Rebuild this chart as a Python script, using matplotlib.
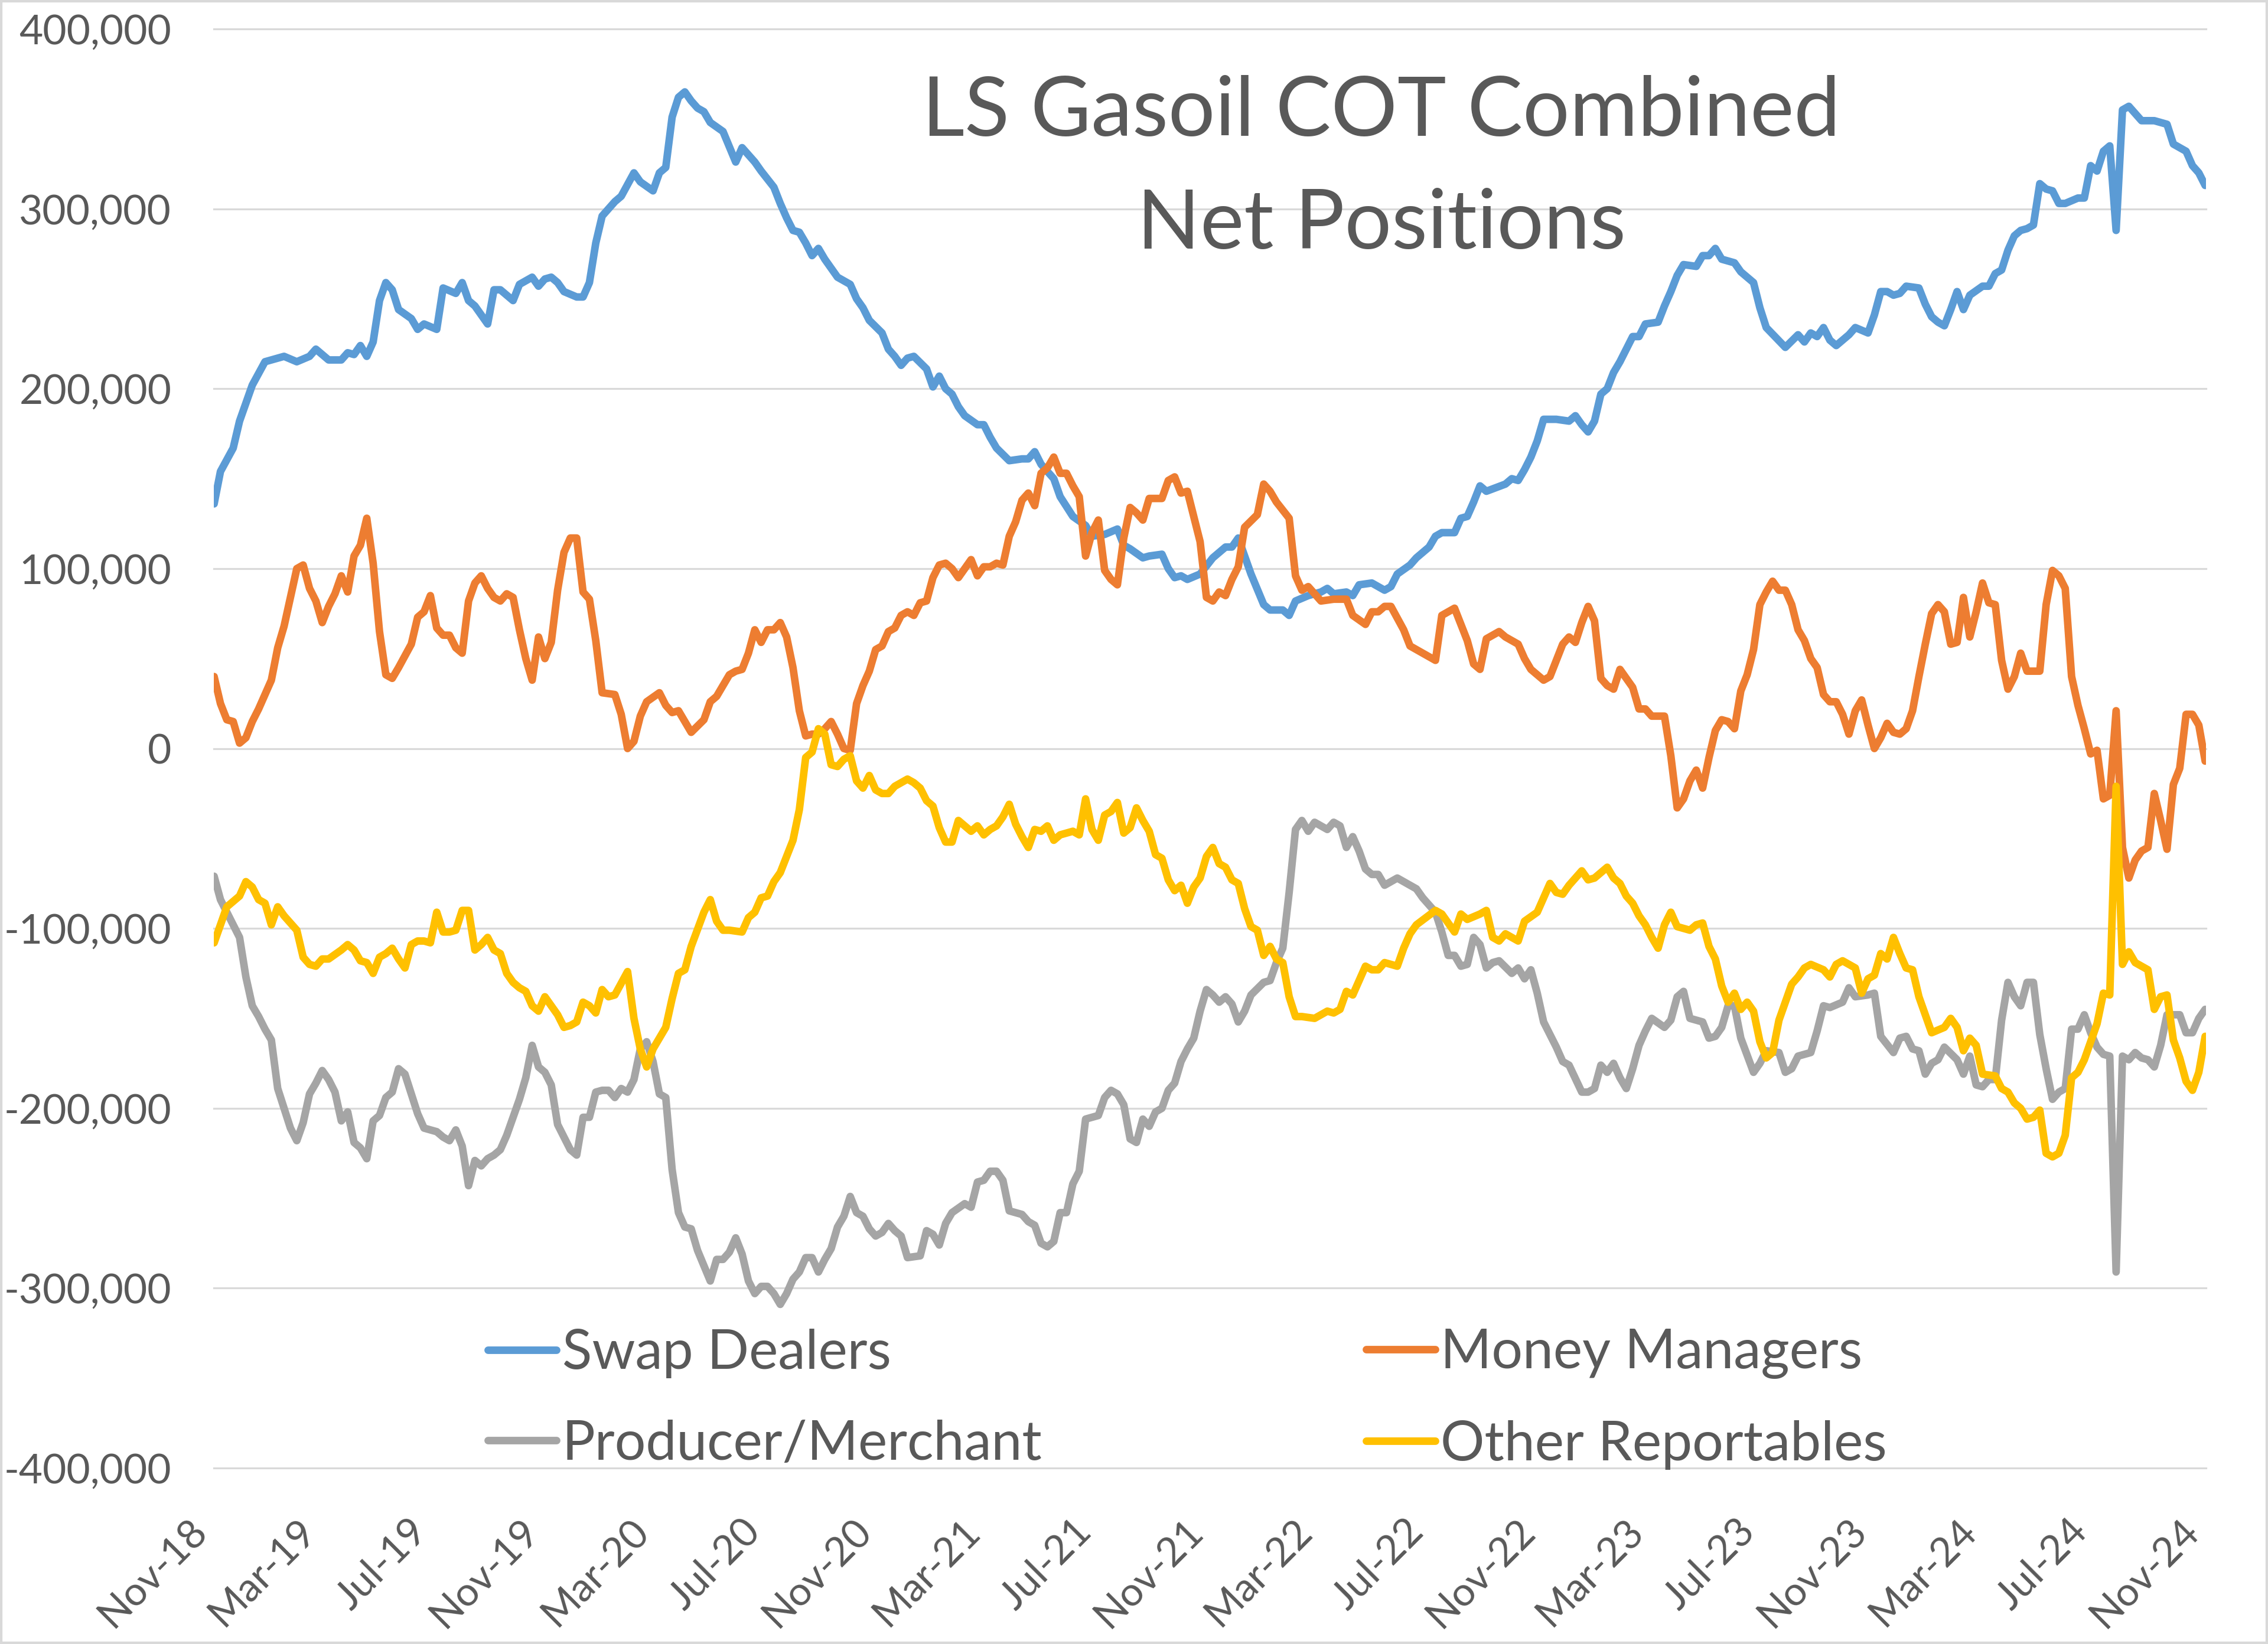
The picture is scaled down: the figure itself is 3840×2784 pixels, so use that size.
import numpy as np
import pandas as pd
import matplotlib
matplotlib.use("Agg")
import matplotlib.pyplot as plt
from matplotlib.ticker import FuncFormatter
from matplotlib.patches import Rectangle

plt.rcParams['font.family'] = ['Lato', 'DejaVu Sans']

# weekly COT reports, (week number since first report, net position in thousands)
first_report = pd.Timestamp('2018-11-06')

swap_dealers = [(0,136),(1,154),(3,167),(4,182),(6,202),(8,215),(11,218),(13,215),(15,218),(16,222),(18,216),(20,216),(21,220),(22,219),(23,224),(24,218),(25,226),(26,249),(27,259),(28,255),(29,244),(31,239),(32,233),(33,236),(35,233),(36,256),(38,253),(39,259),(40,249),(41,246),(43,236),(44,255),(45,255),(47,249),(48,258),(50,262),(51,257),(52,261),(53,262),(54,259),(55,254),(57,251),(58,251),(59,259),(60,281),(61,296),(63,304),(64,307),(66,320),(67,315),(69,310),(70,320),(71,323),(72,351),(73,362),(74,365),(75,360),(76,356),(77,354),(78,348),(80,343),(82,326),(83,334),(85,326),(86,321),(88,312),(89,303),(90,295),(91,288),(92,287),(93,281),(94,274),(95,278),(96,272),(98,262),(100,258),(101,250),(102,245),(103,238),(105,231),(106,222),(107,218),(108,213),(109,217),(110,218),(112,211),(113,201),(114,207),(115,200),(116,197),(117,190),(118,185),(120,180),(121,180),(122,173),(123,167),(125,160),(127,161),(128,161),(129,165),(130,158),(132,150),(133,140),(135,129),(137,124),(138,118),(140,119),(142,122),(143,113),(144,111),(146,106),(147,107),(149,108),(150,100),(151,95),(152,96),(153,94),(155,97),(157,106),(159,112),(160,112),(161,117),(162,107),(163,97),(165,80),(166,77),(168,77),(169,74),(170,82),(172,85),(174,87),(175,89),(176,86),(178,87),(179,85),(180,91),(182,92),(184,88),(185,90),(186,97),(188,102),(189,106),(191,112),(192,118),(193,120),(195,120),(196,128),(197,129),(198,137),(199,146),(200,143),(203,147),(204,150),(205,149),(206,155),(207,162),(208,171),(209,183),(211,183),(213,182),(214,185),(215,180),(216,176),(217,182),(218,197),(219,200),(220,209),(221,215),(223,229),(224,229),(225,236),(227,237),(228,246),(229,254),(230,263),(231,269),(233,268),(234,274),(235,274),(236,278),(237,272),(239,270),(240,265),(242,259),(243,245),(244,234),(247,223),(249,230),(250,226),(251,231),(252,229),(253,234),(254,227),(255,224),(257,230),(258,234),(260,231),(261,241),(262,254),(263,254),(264,252),(265,253),(266,257),(268,256),(269,247),(270,240),(271,237),(272,235),(273,244),(274,254),(275,244),(276,252),(278,257),(279,257),(280,264),(281,266),(282,277),(283,285),(284,288),(285,289),(286,291),(287,314),(288,311),(289,310),(290,303),(291,303),(293,306),(294,306),(295,324),(296,321),(297,332),(298,335),(299,288),(300,355),(301,357),(303,349),(305,349),(307,347),(308,336),(310,332),(311,324),(312,320),(313,313)]

money_managers = [(0,40),(1,25),(2,16),(3,15),(4,3),(5,6),(6,15),(7,22),(9,38),(10,56),(11,68),(13,100),(14,102),(15,89),(16,82),(17,70),(18,79),(19,86),(20,96),(21,87),(22,107),(23,113),(24,128),(25,103),(26,65),(27,41),(28,39),(29,45),(31,58),(32,73),(33,76),(34,85),(35,67),(36,63),(37,63),(38,56),(39,53),(40,82),(41,92),(42,96),(43,89),(44,84),(45,82),(46,86),(47,84),(48,66),(49,50),(50,38),(51,62),(52,50),(53,59),(54,88),(55,109),(56,117),(57,117),(58,87),(59,83),(60,60),(61,31),(63,30),(64,19),(65,0),(66,4),(67,18),(68,26),(70,31),(71,24),(72,20),(73,21),(75,9),(77,16),(78,26),(79,29),(80,35),(81,41),(82,43),(83,44),(84,53),(85,66),(86,59),(87,66),(88,66),(89,70),(90,62),(91,45),(92,21),(93,7),(94,8),(95,8),(96,11),(97,15),(98,8),(99,0),(100,-1),(101,25),(102,35),(103,43),(104,55),(105,57),(106,65),(107,67),(108,74),(109,76),(110,74),(111,81),(112,82),(113,95),(114,102),(115,103),(116,100),(117,95),(118,100),(119,105),(120,96),(121,101),(122,101),(123,103),(124,102),(125,118),(126,126),(127,138),(128,142),(129,135),(130,153),(131,156),(132,162),(133,153),(134,153),(135,146),(136,140),(137,107),(138,120),(139,127),(140,99),(141,94),(142,91),(143,117),(144,134),(145,131),(146,127),(147,139),(148,139),(149,139),(150,149),(151,151),(152,142),(153,143),(154,129),(155,115),(156,84),(157,82),(158,87),(159,85),(160,94),(161,101),(162,123),(164,130),(165,147),(166,143),(167,137),(169,128),(170,96),(171,88),(172,90),(174,82),(176,83),(178,83),(179,74),(181,69),(182,76),(183,76),(184,79),(185,79),(187,66),(188,57),(190,53),(192,49),(193,74),(195,78),(196,69),(197,60),(198,47),(199,44),(200,61),(202,65),(203,62),(205,58),(206,50),(207,44),(209,38),(210,40),(212,58),(213,62),(214,59),(215,70),(216,79),(217,71),(218,39),(219,35),(220,33),(221,44),(223,34),(224,22),(225,22),(226,18),(228,18),(229,-4),(230,-33),(231,-28),(232,-18),(233,-12),(234,-22),(235,-5),(236,10),(237,16),(238,15),(239,11),(240,32),(241,41),(242,55),(243,80),(244,87),(245,93),(246,88),(247,88),(248,80),(249,66),(250,60),(251,50),(252,45),(253,30),(254,26),(255,26),(256,19),(257,8),(258,21),(259,27),(260,13),(261,0),(262,6),(263,14),(264,9),(265,8),(266,11),(267,21),(268,40),(269,58),(270,75),(271,80),(272,76),(273,58),(274,59),(275,84),(276,62),(277,76),(278,92),(279,81),(280,80),(281,49),(282,33),(283,40),(284,53),(285,43),(287,43),(288,80),(289,99),(290,96),(291,89),(292,40),(293,24),(294,11),(295,-3),(296,-1),(297,-28),(298,-26),(299,21),(300,-55),(301,-72),(302,-62),(303,-57),(304,-55),(305,-25),(306,-40),(307,-56),(308,-20),(309,-11),(310,19),(311,19),(312,13),(313,-7)]

producer_merchant = [(0,-71),(1,-84),(3,-98),(4,-105),(5,-127),(6,-143),(7,-149),(8,-156),(9,-162),(10,-189),(11,-200),(12,-211),(13,-218),(14,-208),(15,-192),(16,-186),(17,-179),(18,-184),(19,-191),(20,-207),(21,-202),(22,-219),(23,-222),(24,-228),(25,-207),(26,-204),(27,-194),(28,-191),(29,-178),(30,-181),(31,-192),(32,-203),(33,-211),(34,-212),(35,-213),(36,-216),(37,-218),(38,-212),(39,-221),(40,-243),(41,-229),(42,-232),(43,-228),(44,-226),(45,-223),(46,-215),(48,-195),(49,-183),(50,-165),(51,-177),(52,-180),(53,-187),(54,-209),(55,-216),(56,-223),(57,-226),(58,-205),(59,-205),(60,-191),(61,-190),(62,-190),(63,-194),(64,-189),(65,-191),(66,-184),(67,-167),(68,-163),(69,-174),(70,-192),(71,-194),(72,-234),(73,-258),(74,-266),(75,-267),(76,-279),(78,-296),(79,-284),(80,-284),(81,-280),(82,-272),(83,-281),(84,-296),(85,-303),(86,-299),(87,-299),(88,-303),(89,-309),(90,-303),(91,-295),(92,-291),(93,-283),(94,-283),(95,-291),(96,-284),(97,-278),(98,-266),(99,-260),(100,-249),(101,-258),(102,-260),(103,-267),(104,-271),(105,-269),(106,-264),(107,-268),(108,-271),(109,-283),(111,-282),(112,-268),(113,-270),(114,-276),(115,-264),(116,-258),(118,-253),(119,-255),(120,-241),(121,-240),(122,-235),(123,-235),(124,-240),(125,-257),(127,-259),(128,-263),(129,-265),(130,-275),(131,-277),(132,-274),(133,-258),(134,-258),(135,-242),(136,-235),(137,-206),(139,-204),(140,-194),(141,-190),(142,-192),(143,-198),(144,-217),(145,-219),(146,-206),(147,-210),(148,-202),(149,-200),(150,-190),(151,-186),(152,-174),(153,-167),(154,-161),(155,-146),(156,-134),(157,-137),(158,-141),(159,-138),(160,-142),(161,-152),(162,-146),(163,-137),(165,-130),(166,-129),(167,-119),(168,-111),(169,-80),(170,-45),(171,-40),(172,-46),(173,-41),(175,-45),(176,-41),(177,-43),(178,-55),(179,-49),(180,-57),(181,-67),(182,-70),(183,-70),(184,-76),(185,-74),(186,-72),(188,-76),(189,-78),(190,-83),(192,-91),(193,-102),(194,-115),(195,-115),(196,-121),(197,-120),(198,-105),(199,-109),(200,-122),(201,-119),(202,-118),(204,-125),(205,-122),(206,-128),(207,-123),(208,-136),(209,-152),(211,-166),(212,-174),(213,-176),(215,-191),(216,-191),(217,-189),(218,-176),(219,-180),(220,-175),(221,-183),(222,-189),(223,-178),(224,-165),(225,-157),(226,-150),(228,-155),(229,-151),(230,-138),(231,-135),(232,-150),(233,-151),(234,-152),(235,-161),(236,-160),(237,-155),(238,-143),(239,-143),(240,-161),(242,-180),(243,-175),(244,-168),(246,-169),(247,-180),(248,-178),(249,-171),(251,-169),(252,-157),(253,-143),(254,-144),(256,-141),(257,-133),(258,-138),(260,-137),(261,-136),(262,-160),(264,-169),(265,-161),(266,-160),(267,-167),(268,-168),(269,-181),(270,-175),(271,-173),(272,-166),(274,-173),(275,-181),(276,-171),(277,-187),(278,-188),(279,-184),(280,-184),(281,-151),(282,-130),(283,-138),(284,-143),(285,-130),(286,-130),(287,-159),(288,-178),(289,-195),(290,-191),(291,-189),(292,-156),(293,-156),(294,-148),(295,-158),(296,-166),(297,-170),(298,-171),(299,-291),(300,-171),(301,-173),(302,-169),(303,-172),(304,-173),(305,-177),(306,-165),(307,-148),(309,-148),(310,-158),(311,-158),(312,-150),(313,-145)]

other_reportables = [(0,-108),(1,-98),(2,-88),(4,-82),(5,-74),(6,-77),(7,-84),(8,-86),(9,-98),(10,-88),(11,-93),(13,-101),(14,-116),(15,-120),(16,-121),(17,-117),(18,-117),(20,-112),(21,-109),(22,-112),(23,-118),(24,-119),(25,-125),(26,-116),(27,-114),(28,-111),(29,-117),(30,-122),(31,-109),(32,-107),(33,-107),(34,-108),(35,-91),(36,-102),(37,-102),(38,-101),(39,-90),(40,-90),(41,-112),(42,-109),(43,-105),(44,-112),(45,-114),(46,-125),(47,-130),(48,-133),(49,-135),(50,-143),(51,-146),(52,-138),(53,-143),(54,-148),(55,-155),(56,-154),(57,-152),(58,-141),(59,-143),(60,-147),(61,-134),(62,-138),(63,-137),(65,-124),(66,-150),(67,-167),(68,-177),(69,-167),(70,-161),(71,-155),(72,-139),(73,-125),(74,-123),(75,-110),(77,-91),(78,-84),(79,-96),(80,-101),(81,-101),(83,-102),(84,-94),(85,-91),(86,-83),(87,-82),(88,-74),(89,-69),(90,-60),(91,-51),(92,-34),(93,-5),(94,-2),(95,11),(96,8),(97,-9),(98,-10),(99,-6),(100,-4),(101,-18),(102,-22),(103,-15),(104,-23),(105,-25),(106,-25),(107,-21),(109,-17),(110,-19),(111,-22),(112,-29),(113,-32),(114,-44),(115,-52),(116,-52),(117,-40),(119,-46),(120,-43),(121,-48),(122,-45),(123,-43),(124,-38),(125,-31),(126,-42),(127,-49),(128,-55),(129,-45),(130,-46),(131,-43),(132,-51),(133,-48),(135,-46),(136,-48),(137,-28),(138,-45),(139,-51),(140,-37),(141,-35),(142,-30),(143,-47),(144,-44),(145,-33),(146,-40),(147,-46),(148,-59),(149,-61),(150,-73),(151,-79),(152,-76),(153,-86),(154,-77),(155,-72),(156,-60),(157,-55),(158,-64),(159,-66),(160,-73),(161,-75),(162,-89),(163,-99),(164,-101),(165,-115),(166,-110),(167,-117),(168,-119),(169,-138),(170,-149),(171,-149),(173,-150),(175,-146),(176,-147),(177,-145),(178,-135),(179,-137),(180,-129),(181,-121),(182,-123),(183,-123),(184,-119),(186,-121),(187,-111),(188,-103),(189,-98),(192,-90),(193,-92),(195,-102),(196,-92),(197,-95),(199,-92),(200,-90),(201,-105),(202,-107),(203,-103),(205,-107),(206,-96),(208,-91),(210,-75),(211,-80),(212,-81),(213,-76),(215,-68),(216,-73),(217,-72),(219,-66),(220,-72),(221,-75),(222,-82),(223,-86),(224,-93),(225,-98),(226,-105),(227,-111),(228,-98),(229,-91),(230,-99),(231,-100),(232,-101),(233,-98),(234,-97),(235,-110),(236,-117),(237,-132),(238,-141),(239,-136),(240,-145),(241,-141),(242,-146),(243,-163),(244,-172),(245,-169),(246,-151),(248,-131),(249,-127),(250,-122),(251,-120),(253,-123),(254,-127),(255,-120),(256,-118),(258,-122),(259,-136),(260,-128),(261,-126),(262,-114),(263,-117),(264,-105),(265,-114),(266,-122),(267,-123),(268,-138),(269,-148),(270,-158),(272,-155),(273,-150),(274,-155),(275,-168),(276,-161),(277,-165),(278,-181),(280,-182),(281,-189),(282,-191),(283,-197),(284,-200),(285,-206),(286,-205),(287,-201),(288,-225),(289,-227),(290,-225),(291,-215),(292,-183),(293,-180),(294,-173),(295,-163),(296,-153),(297,-136),(298,-137),(299,-21),(300,-120),(301,-113),(302,-119),(303,-121),(304,-123),(305,-145),(306,-138),(307,-137),(308,-162),(309,-172),(310,-185),(311,-190),(312,-180),(313,-160)]

series_names = ['Swap Dealers', 'Money Managers', 'Producer/Merchant', 'Other Reportables']
series_colors = ['#5B9BD5', '#ED7D31', '#A5A5A5', '#FFC000']
text_color = '#595959'


def to_xy(points):
    weeks = np.array([p[0] for p in points])
    dates = first_report + pd.to_timedelta(weeks * 7, unit='D')
    values = np.array([p[1] for p in points]) * 1000
    return dates, values


fig = plt.figure(figsize=(19.2, 13.92), dpi=200)
ax = fig.add_axes([0.0944, 0.1070, 0.8783, 0.8754])

lines = []
for pts, name, color in zip([swap_dealers, money_managers, producer_merchant, other_reportables],
                            series_names, series_colors):
    x, y = to_xy(pts)
    ln, = ax.plot(x, y, color=color, lw=4.6, label=name,
                  solid_joinstyle='round', solid_capstyle='round')
    lines.append(ln)

# axes
ticks = [first_report + pd.DateOffset(months=4 * i) for i in range(19)]
ax.set_xlim(ticks[0], ticks[-1])
ax.set_xticks(ticks)
ax.set_xticklabels([t.strftime('%b-%y') for t in ticks], rotation=45, ha='right', va='top')
ax.set_ylim(-400000, 400000)
ax.set_yticks(np.arange(-400000, 400001, 100000))
ax.yaxis.set_major_formatter(FuncFormatter(lambda v, p: f'{v:,.0f}'))
ax.tick_params(axis='x', length=0, pad=27, labelsize=24.5, labelcolor=text_color)
ax.tick_params(axis='y', length=0, pad=26, labelsize=25, labelcolor=text_color)

ax.yaxis.grid(True, color='#D9D9D9', lw=1.15)
ax.xaxis.grid(False)
ax.set_axisbelow(True)
for gl in ax.get_ygridlines():
    gl.set_clip_on(False)
for s in ax.spines.values():
    s.set_visible(False)

# title inside the plot
ax.text(0.586, 0.9257, 'LS Gasoil COT Combined', transform=ax.transAxes,
        ha='center', va='baseline', fontsize=50.5, color=text_color)
ax.text(0.586, 0.8474, 'Net Positions', transform=ax.transAxes,
        ha='center', va='baseline', fontsize=50.5, color=text_color)

# legend in two columns
leg_kw = dict(loc='center left', frameon=False, fontsize=33.5, handlelength=1.25,
              handletextpad=0.1, labelspacing=0.75, borderpad=0, borderaxespad=0,
              labelcolor=text_color)
leg1 = ax.legend([lines[0], lines[2]], [series_names[0], series_names[2]],
                 bbox_to_anchor=(0.1374, 0.048), **leg_kw)
ax.add_artist(leg1)
ax.legend([lines[1], lines[3]], [series_names[1], series_names[3]],
          bbox_to_anchor=(0.5784, 0.048), **leg_kw)

# chart border
fig.add_artist(Rectangle((0, 0), 1, 1, transform=fig.transFigure, fill=False,
                         edgecolor='#D9D9D9', lw=3))

fig.savefig('out.png', dpi=200)
